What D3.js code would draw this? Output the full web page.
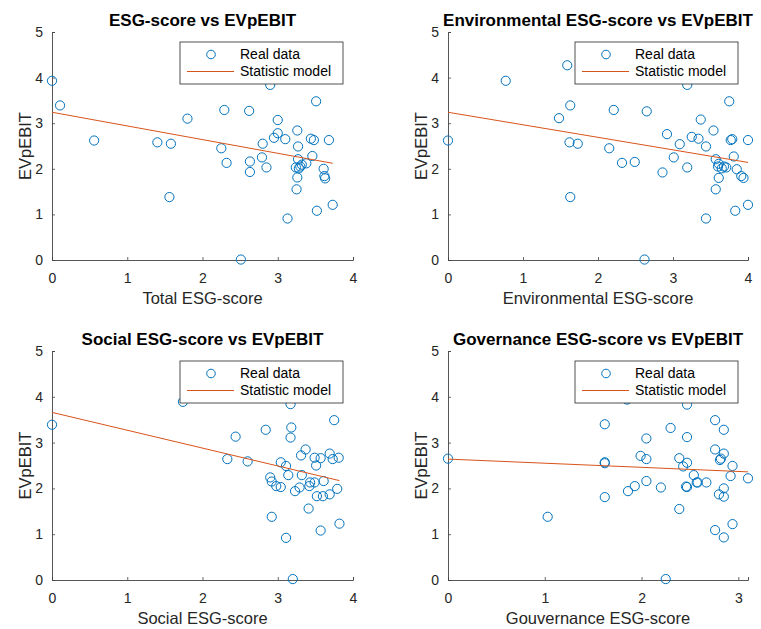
<!DOCTYPE html>
<html>
<head>
<meta charset="utf-8">
<script src="https://cdn.jsdelivr.net/npm/d3@7"></script>
<style>
  body { margin: 0; background: #fff; }
  svg text { font-family: "Liberation Sans", Arial, Helvetica, sans-serif; }
</style>
</head>
<body>
<svg id="chart" width="761" height="629"></svg>
<script>
// Total ESG-score vs EVpEBIT
const esgX = [0, 0.107, 0.56, 1.40, 1.58, 1.56, 1.80, 2.29, 2.25, 2.32, 2.51, 2.90, 3.51, 2.62, 3.00, 3.26,
  3.00, 2.95, 3.10, 3.44, 3.48, 3.68, 2.80, 3.27, 2.79, 3.46, 2.63, 2.85, 2.63, 3.27, 3.38, 3.32, 3.24,
  3.28, 3.30, 3.61, 3.62, 3.63, 3.26, 3.25, 3.13, 3.52, 3.73, 2.70];
const esgY = [3.93, 3.39, 2.62, 2.58, 2.55, 1.38, 3.10, 3.29, 2.45, 2.13, 0.01, 3.84, 3.48, 3.27, 3.07, 2.84,
  2.78, 2.68, 2.65, 2.66, 2.63, 2.63, 2.55, 2.49, 2.25, 2.28, 2.16, 2.03, 1.93, 2.21, 2.12, 2.09, 2.03,
  2.01, 2.05, 2.00, 1.84, 1.79, 1.81, 1.55, 0.91, 1.08, 1.21, 4.27];

// Environmental
const envX = [0, 0.77, 1.59, 1.48, 1.63, 1.62, 1.73, 1.63, 2.21, 2.15, 2.32, 2.49, 2.65, 2.62, 2.86, 3.19,
  3.75, 3.37, 3.54, 2.92, 3.25, 3.34, 3.79, 3.77, 4.00, 3.09, 3.44, 3.81, 3.01, 3.57, 3.19, 3.61, 3.68,
  3.65, 3.71, 3.60, 3.85, 3.91, 3.94, 3.61, 3.57, 3.44, 3.83, 4.00];
const envY = [2.62, 3.93, 4.27, 3.11, 3.39, 2.58, 2.55, 1.38, 3.29, 2.45, 2.13, 2.15, 3.26, 0.01, 1.92, 3.84,
  3.48, 3.08, 2.84, 2.76, 2.70, 2.66, 2.65, 2.63, 2.63, 2.54, 2.49, 2.27, 2.25, 2.21, 2.03, 2.11, 2.05,
  2.01, 2.03, 2.05, 1.99, 1.84, 1.80, 1.80, 1.55, 0.91, 1.08, 1.21];

// Social
const socX = [0, 1.74, 2.33, 2.44, 2.60, 2.84, 3.17, 3.75, 3.18, 3.17, 3.37, 3.31, 3.49, 3.57, 3.69, 3.73,
  3.81, 3.51, 3.04, 3.11, 3.14, 3.32, 2.90, 2.92, 2.98, 3.04, 3.23, 3.29, 3.43, 3.49, 3.42, 3.61, 3.52,
  3.60, 3.69, 3.79, 3.41, 2.92, 3.57, 3.82, 3.11, 3.20, 3.00];
const socY = [3.39, 3.89, 2.64, 3.13, 2.59, 3.28, 3.84, 3.49, 3.33, 3.11, 2.85, 2.72, 2.67, 2.66, 2.76, 2.64,
  2.67, 2.50, 2.57, 2.49, 2.29, 2.29, 2.24, 2.15, 2.05, 2.03, 1.94, 2.02, 2.13, 2.13, 2.05, 2.16, 1.83,
  1.83, 1.87, 1.99, 1.56, 1.38, 1.08, 1.23, 0.92, 0.02, 4.27];

// Governance
const govX = [0, 1.03, 1.62, 1.62, 1.62, 1.62, 1.85, 1.86, 1.93, 1.99, 2.05, 2.05, 2.05, 2.20, 2.30, 2.25,
  2.47, 2.47, 2.39, 2.43, 2.47, 2.39, 2.46, 2.47, 2.54, 2.57, 2.58, 2.67, 2.76, 2.76, 2.81, 2.82, 2.85,
  2.85, 2.80, 2.85, 2.85, 2.94, 2.92, 3.10, 2.76, 2.85, 2.94, 2.60];
const govY = [2.65, 1.38, 3.40, 2.57, 2.55, 1.81, 3.94, 1.94, 2.05, 2.71, 2.64, 3.09, 2.16, 2.02, 3.32, 0.02,
  3.83, 3.12, 2.66, 2.48, 2.56, 1.55, 2.04, 2.03, 2.29, 2.13, 2.13, 2.13, 3.49, 2.85, 2.62, 2.65, 2.76,
  3.28, 1.87, 2.00, 1.82, 2.49, 2.27, 2.22, 1.09, 0.93, 1.22, 4.27];

// fitted model lines: EVpEBIT = intercept + slope * score
const intercepts = [3.24, 3.24, 3.66, 2.64];
const slopes = [-0.300, -0.275, -0.390, -0.090];

const titles = ["ESG-score vs EVpEBIT", "Environmental ESG-score vs EVpEBIT",
  "Social ESG-score vs EVpEBIT", "Governance ESG-score vs EVpEBIT"];
const xLabels = ["Total ESG-score", "Environmental ESG-score", "Social ESG-score", "Gouvernance ESG-score"];
const xMaxes = [4, 4, 4, 3.1];
const xTicks = [[0, 1, 2, 3, 4], [0, 1, 2, 3, 4], [0, 1, 2, 3, 4], [0, 1, 2, 3]];
const yTicks = [0, 1, 2, 3, 4, 5];
const legendLabels = ["Real data", "Statistic model"];

const xsAll = [esgX, envX, socX, govX];
const ysAll = [esgY, envY, socY, govY];

const blue = "#0072BD";
const orange = "#D95319";
const axisColor = "#262626";

const boxes = [
  { left: 52, top: 32, width: 301, height: 228 },
  { left: 448, top: 32, width: 300, height: 228 },
  { left: 52, top: 351, width: 301, height: 229 },
  { left: 448, top: 351, width: 300, height: 229 }
];

const svg = d3.select("#chart");

boxes.forEach(function (b, i) {
  let g = svg.append("g").attr("transform", "translate(" + b.left + "," + b.top + ")");

  let x = d3.scaleLinear().domain([0, xMaxes[i]]).range([0, b.width]);
  let y = d3.scaleLinear().domain([0, 5]).range([b.height, 0]);

  // axes (MATLAB style: ticks inward, box off)
  let xAxis = d3.axisBottom(x).tickValues(xTicks[i]).tickSize(-3).tickPadding(10).tickFormat(d3.format("d"));
  let yAxis = d3.axisLeft(y).tickValues(yTicks).tickSize(-3).tickPadding(9).tickFormat(d3.format("d"));

  let gx = g.append("g").attr("transform", "translate(0," + b.height + ")").call(xAxis);
  let gy = g.append("g").call(yAxis);

  [gx, gy].forEach(function (a) {
    a.select(".domain").attr("stroke", "#444").attr("stroke-width", 0.9);
    a.selectAll(".tick line").attr("stroke", "#444").attr("stroke-width", 0.8);
    a.selectAll(".tick text").attr("fill", axisColor).attr("font-size", 14);
  });
  gx.selectAll(".tick text").attr("dy", "0.9em");

  // data points
  let pts = xsAll[i].map(function (v, k) { return [v, ysAll[i][k]]; });
  g.append("g").selectAll("circle").data(pts).enter().append("circle")
    .attr("cx", d => x(d[0]))
    .attr("cy", d => y(d[1]))
    .attr("r", 4.6)
    .attr("fill", "none")
    .attr("stroke", blue)
    .attr("stroke-width", 1);

  // model line over the data range
  let ext = d3.extent(xsAll[i]);
  let line = d3.line().x(d => x(d)).y(d => y(intercepts[i] + slopes[i] * d));
  g.append("path").datum(ext).attr("d", line)
    .attr("fill", "none").attr("stroke", orange).attr("stroke-width", 1);

  // title
  g.append("text").attr("x", b.width / 2).attr("y", -12).attr("dy", "0.35em")
    .attr("text-anchor", "middle").attr("font-size", 17).attr("font-weight", "bold")
    .attr("fill", "#000").text(titles[i]);

  // axis labels
  g.append("text").attr("x", b.width / 2).attr("y", b.height + 38).attr("dy", "0.35em")
    .attr("text-anchor", "middle").attr("font-size", 16.5).attr("fill", axisColor).text(xLabels[i]);
  g.append("text").attr("transform", "translate(-27," + (b.height / 2) + ") rotate(-90)")
    .attr("dy", "0.35em").attr("text-anchor", "middle").attr("font-size", 16.5)
    .attr("fill", axisColor).text("EVpEBIT");

  // legend
  let lw = 163, lh = 42;
  let lg = g.append("g").attr("transform", "translate(" + (b.width - 10 - lw) + ",10)");
  lg.append("rect").attr("width", lw).attr("height", lh)
    .attr("fill", "#fff").attr("stroke", axisColor).attr("stroke-width", 0.8);
  lg.append("circle").attr("cx", 31).attr("cy", 12.5).attr("r", 4.3)
    .attr("fill", "none").attr("stroke", blue).attr("stroke-width", 1);
  lg.append("line").attr("x1", 7).attr("x2", 54).attr("y1", 29.5).attr("y2", 29.5)
    .attr("stroke", orange).attr("stroke-width", 1);
  legendLabels.forEach(function (t, k) {
    lg.append("text").attr("x", 60).attr("y", 12.5 + k * 17).attr("dy", "0.35em")
      .attr("font-size", 14).attr("fill", "#000").text(t);
  });
});
</script>
</body>
</html>
